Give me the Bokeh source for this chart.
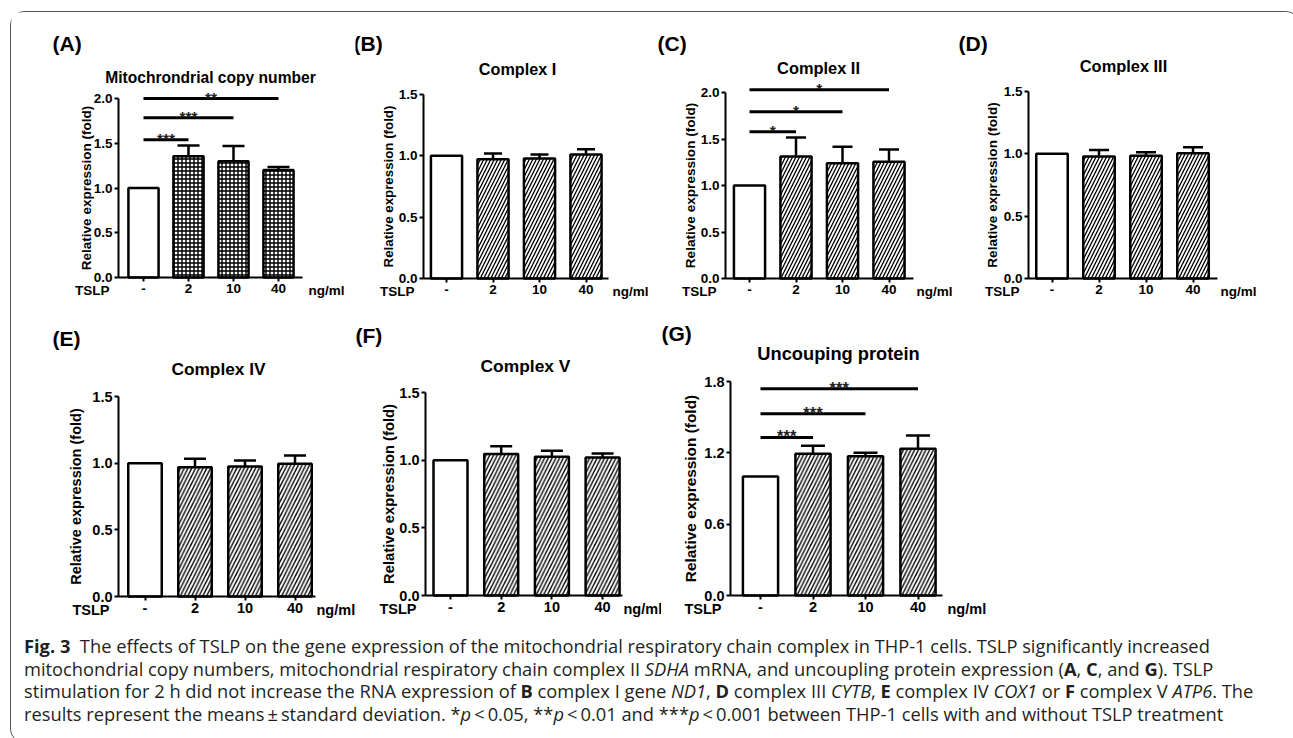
import math
from bokeh.plotting import figure
from bokeh.models import (ColumnDataSource, FixedTicker, Label, Whisker, TeeHead, Div,
                          Range1d, LinearAxis)
from bokeh.layouts import row, column
from bokeh.embed import file_html
from bokeh.resources import INLINE
from bokeh.core.properties import value, field

# ---------------- data ----------------
categories = ["-", "2", "10", "40"]
x_name = "TSLP"
x_unit = "ng/ml"
y_title = "Relative expression (fold)"

mito_mean = [1.00, 1.355, 1.30, 1.20]
mito_sd = [0.0, 0.12, 0.17, 0.035]
mito_sig_y = [1.54, 1.785, 2.00]
mito_sig_to = [1, 2, 3]
mito_sig_txt = ["***", "***", "**"]

c1_mean = [1.00, 0.973, 0.978, 1.011]
c1_sd = [0.0, 0.046, 0.033, 0.043]

c2_mean = [1.00, 1.313, 1.238, 1.256]
c2_sd = [0.0, 0.204, 0.18, 0.13]
c2_sig_y = [1.578, 1.793, 2.03]
c2_sig_to = [1, 2, 3]
c2_sig_txt = ["*", "*", "*"]

c3_mean = [1.00, 0.978, 0.985, 1.004]
c3_sd = [0.0, 0.053, 0.027, 0.048]

c4_mean = [1.00, 0.970, 0.975, 0.995]
c4_sd = [0.0, 0.063, 0.045, 0.063]

c5_mean = [1.00, 1.045, 1.026, 1.020]
c5_sd = [0.0, 0.057, 0.044, 0.030]

ucp_mean = [1.00, 1.192, 1.172, 1.234]
ucp_sd = [0.0, 0.067, 0.028, 0.112]
ucp_sig_y = [1.33, 1.528, 1.74]
ucp_sig_to = [1, 2, 3]
ucp_sig_txt = ["***", "***", "***"]

yticks_2 = [0.0, 0.5, 1.0, 1.5, 2.0]
yticks_15 = [0.0, 0.5, 1.0, 1.5]
yticks_18 = [0.0, 0.6, 1.2, 1.8]

# ---------------- layout / style (pixel geometry, page coordinates) ----------------
FONT = "Liberation Sans"
TOP = (12, 306)
BOT = (306, 628)
GEOM = {
    "A": dict(fx=(11, 355), fy=TOP, xl=118, xr=302, c0=143, s=45, y0=277, ytop=98,
              letter=(52, 43), title=(210, 77), ylab=32, fs=13.5, fst=15.6, fsl=13.5, cap=22,
              unit_gap=6, hatch="+", hscale=4, hweight=1.4),
    "B": dict(fx=(355, 652), fy=TOP, xl=423, xr=608, c0=446, s=46.5, y0=278, ytop=94,
              letter=(353, 43), title=(517, 68), ylab=35, fs=13.5, fst=16.2, fsl=13.3, cap=18,
              unit_gap=4, hatch="/", hscale=7, hweight=1.3),
    "C": dict(fx=(652, 952), fy=TOP, xl=725, xr=913, c0=749, s=46.5, y0=278, ytop=92,
              letter=(657, 43), title=(818, 67), ylab=35, fs=13.5, fst=16.4, fsl=13.6, cap=20,
              unit_gap=3, hatch="/", hscale=7, hweight=1.3),
    "D": dict(fx=(952, 1289), fy=TOP, xl=1028, xr=1217, c0=1051.5, s=47, y0=278, ytop=91,
              letter=(958, 43), title=(1123, 65), ylab=36, fs=13.5, fst=16.4, fsl=13.6, cap=20,
              unit_gap=3, hatch="/", hscale=7, hweight=1.3),
    "E": dict(fx=(11, 355), fy=BOT, xl=118, xr=315, c0=144.5, s=50, y0=596, ytop=396,
              letter=(52, 338), title=(218, 368), ylab=43, fs=14.5, fst=17.3, fsl=14.5, cap=22,
              unit_gap=1, hatch="/", hscale=7.5, hweight=1.4),
    "F": dict(fx=(355, 661), fy=BOT, xl=425, xr=622, c0=450, s=50.7, y0=595, ytop=392,
              letter=(355, 335), title=(525, 365), ylab=37, fs=14.5, fst=17.4, fsl=14.8, cap=22,
              unit_gap=1, hatch="/", hscale=7.5, hweight=1.4),
    "G": dict(fx=(661, 1289), fy=BOT, xl=730, xr=942, c0=760, s=52.5, y0=595, ytop=381,
              letter=(661, 333), title=(838, 353), ylab=40, fs=14.5, fst=18.3, fsl=15.4, cap=24,
              unit_gap=5, hatch="/", hscale=7.5, hweight=1.4),
}


def style_axis(ax, fs):
    ax.axis_line_width = 2
    ax.axis_line_color = "black"
    ax.major_tick_line_width = 2
    ax.major_tick_line_color = "black"
    ax.major_tick_out = 4
    ax.major_tick_in = 0
    ax.minor_tick_line_color = None
    ax.major_label_text_font = FONT
    ax.major_label_text_font_style = "bold"
    ax.major_label_text_font_size = f"{fs}px"
    ax.major_label_text_color = "black"
    ax.major_label_standoff = 2


def panel(letter, title, mean, sd, yticks, sig_y=None, sig_to=None, sig_txt=None):
    g = GEOM[letter]
    ymax = yticks[-1]
    ppu = (g["y0"] - g["ytop"]) / ymax

    def dx(px):
        return (px - g["c0"]) / g["s"]

    def dy(py):
        return (g["y0"] - py) / ppu

    p = figure(width=g["fx"][1] - g["fx"][0], height=g["fy"][1] - g["fy"][0], min_border=0,
               x_range=Range1d(dx(g["fx"][0]), dx(g["fx"][1])),
               y_range=Range1d(dy(g["fy"][1]), dy(g["fy"][0])),
               x_axis_location=None, y_axis_location=None,
               toolbar_location=None, output_backend="svg", title=None,
               background_fill_color="white", border_fill_color="white")
    p.outline_line_color = None
    p.xgrid.visible = False
    p.ygrid.visible = False

    xs = list(range(len(categories)))
    xaxis = LinearAxis(fixed_location=0, bounds=(dx(g["xl"]), dx(g["xr"])),
                       ticker=FixedTicker(ticks=xs),
                       major_label_overrides={i: c for i, c in zip(xs, categories)})
    yaxis = LinearAxis(fixed_location=dx(g["xl"]), bounds=(0, ymax),
                       ticker=FixedTicker(ticks=yticks),
                       major_label_overrides={t: f"{t:.1f}" for t in yticks})
    style_axis(xaxis, g["fs"])
    style_axis(yaxis, g["fs"])
    p.add_layout(xaxis, "below")
    p.add_layout(yaxis, "left")

    hatches = [" "] + [g["hatch"]] * (len(categories) - 1)
    src = ColumnDataSource(dict(x=xs, top=mean, hatch=hatches))
    p.vbar(x="x", top="top", width=0.67, source=src, fill_color="white",
           line_color="black", line_width=2.5, hatch_pattern=field("hatch"),
           hatch_color="black", hatch_scale=g["hscale"], hatch_weight=g["hweight"])

    esrc = ColumnDataSource(dict(x=xs[1:], lower=mean[1:],
                                 upper=[m + e for m, e in zip(mean[1:], sd[1:])]))
    p.add_layout(Whisker(source=esrc, base="x", lower="lower", upper="upper",
                         dimension="height", line_width=2.5, line_color="black",
                         upper_head=TeeHead(size=g["cap"], line_width=2.5, line_color="black"),
                         lower_head=None))

    if sig_y is not None:
        n = len(sig_y)
        p.segment(x0=[0] * n, y0=sig_y, x1=sig_to, y1=sig_y, line_width=3, line_color="black")
        p.text(x=[t / 2 for t in sig_to], y=sig_y, text=sig_txt, text_align="center",
               text_baseline="alphabetic", text_font=value(FONT), text_font_style="bold",
               text_font_size=value(f"{g['fs'] + 2}px"), text_color="#222222", y_offset=-1)

    def lab(px, py, text, size, align="center", angle=0.0):
        p.add_layout(Label(x=dx(px), y=dy(py), text=text, text_font=FONT,
                           text_font_style="bold", text_font_size=f"{size}px",
                           text_align=align, text_baseline="middle", text_color="black",
                           angle=angle))

    lab(g["letter"][0], g["letter"][1], f"({letter})", 21, align="left")
    lab(g["title"][0], g["title"][1], title, g["fst"])
    lab(g["xl"] - 9, g["y0"] + 13, x_name, g["fs"], align="right")
    lab(g["xr"] + g["unit_gap"], g["y0"] + 13, x_unit, g["fs"], align="left")
    lab(g["xl"] - g["ylab"], (g["y0"] + g["ytop"]) / 2, y_title, g["fsl"], angle=math.pi / 2)
    return p


pA = panel("A", "Mitochrondrial copy number", mito_mean, mito_sd, yticks_2,
           mito_sig_y, mito_sig_to, mito_sig_txt)
pB = panel("B", "Complex I", c1_mean, c1_sd, yticks_15)
pC = panel("C", "Complex II", c2_mean, c2_sd, yticks_2, c2_sig_y, c2_sig_to, c2_sig_txt)
pD = panel("D", "Complex III", c3_mean, c3_sd, yticks_15)
pE = panel("E", "Complex IV", c4_mean, c4_sd, yticks_15)
pF = panel("F", "Complex V", c5_mean, c5_sd, yticks_15)
pG = panel("G", "Uncouping protein", ucp_mean, ucp_sd, yticks_18,
           ucp_sig_y, ucp_sig_to, ucp_sig_txt)

caption_lines = [
    '<b>Fig. 3</b>&nbsp; The effects of TSLP on the gene expression of the mitochondrial respiratory chain complex in THP-1 cells. TSLP significantly increased',
    'mitochondrial copy numbers, mitochondrial respiratory chain complex II <i>SDHA</i> mRNA, and uncoupling protein expression (<b>A</b>, <b>C</b>, and <b>G</b>). TSLP',
    'stimulation for 2 h did not increase the RNA expression of <b>B</b> complex I gene <i>ND1</i>, <b>D</b> complex III <i>CYTB</i>, <b>E</b> complex IV <i>COX1</i> or <b>F</b> complex V <i>ATP6</i>. The',
    'results represent the means&thinsp;&plusmn;&thinsp;standard deviation. *<i>p</i>&thinsp;&lt;&thinsp;0.05, **<i>p</i>&thinsp;&lt;&thinsp;0.01 and ***<i>p</i>&thinsp;&lt;&thinsp;0.001 between THP-1 cells with and without TSLP treatment',
]
caption = Div(text="<br>".join(caption_lines), width=1278, height=104,
              styles={"font-family": "'Open Sans'", "font-size": "18.3px",
                      "line-height": "22.5px", "padding-left": "8px", "padding-top": "2px",
                      "white-space": "nowrap", "color": "#231f20"})

layout = column(row(pA, pB, pC, pD), row(pE, pF, pG), caption,
                styles={"border": "1px solid #555555", "border-radius": "14px",
                        "margin-left": "10px", "margin-top": "11px"})

open("out.html", "w").write(file_html(layout, INLINE))
